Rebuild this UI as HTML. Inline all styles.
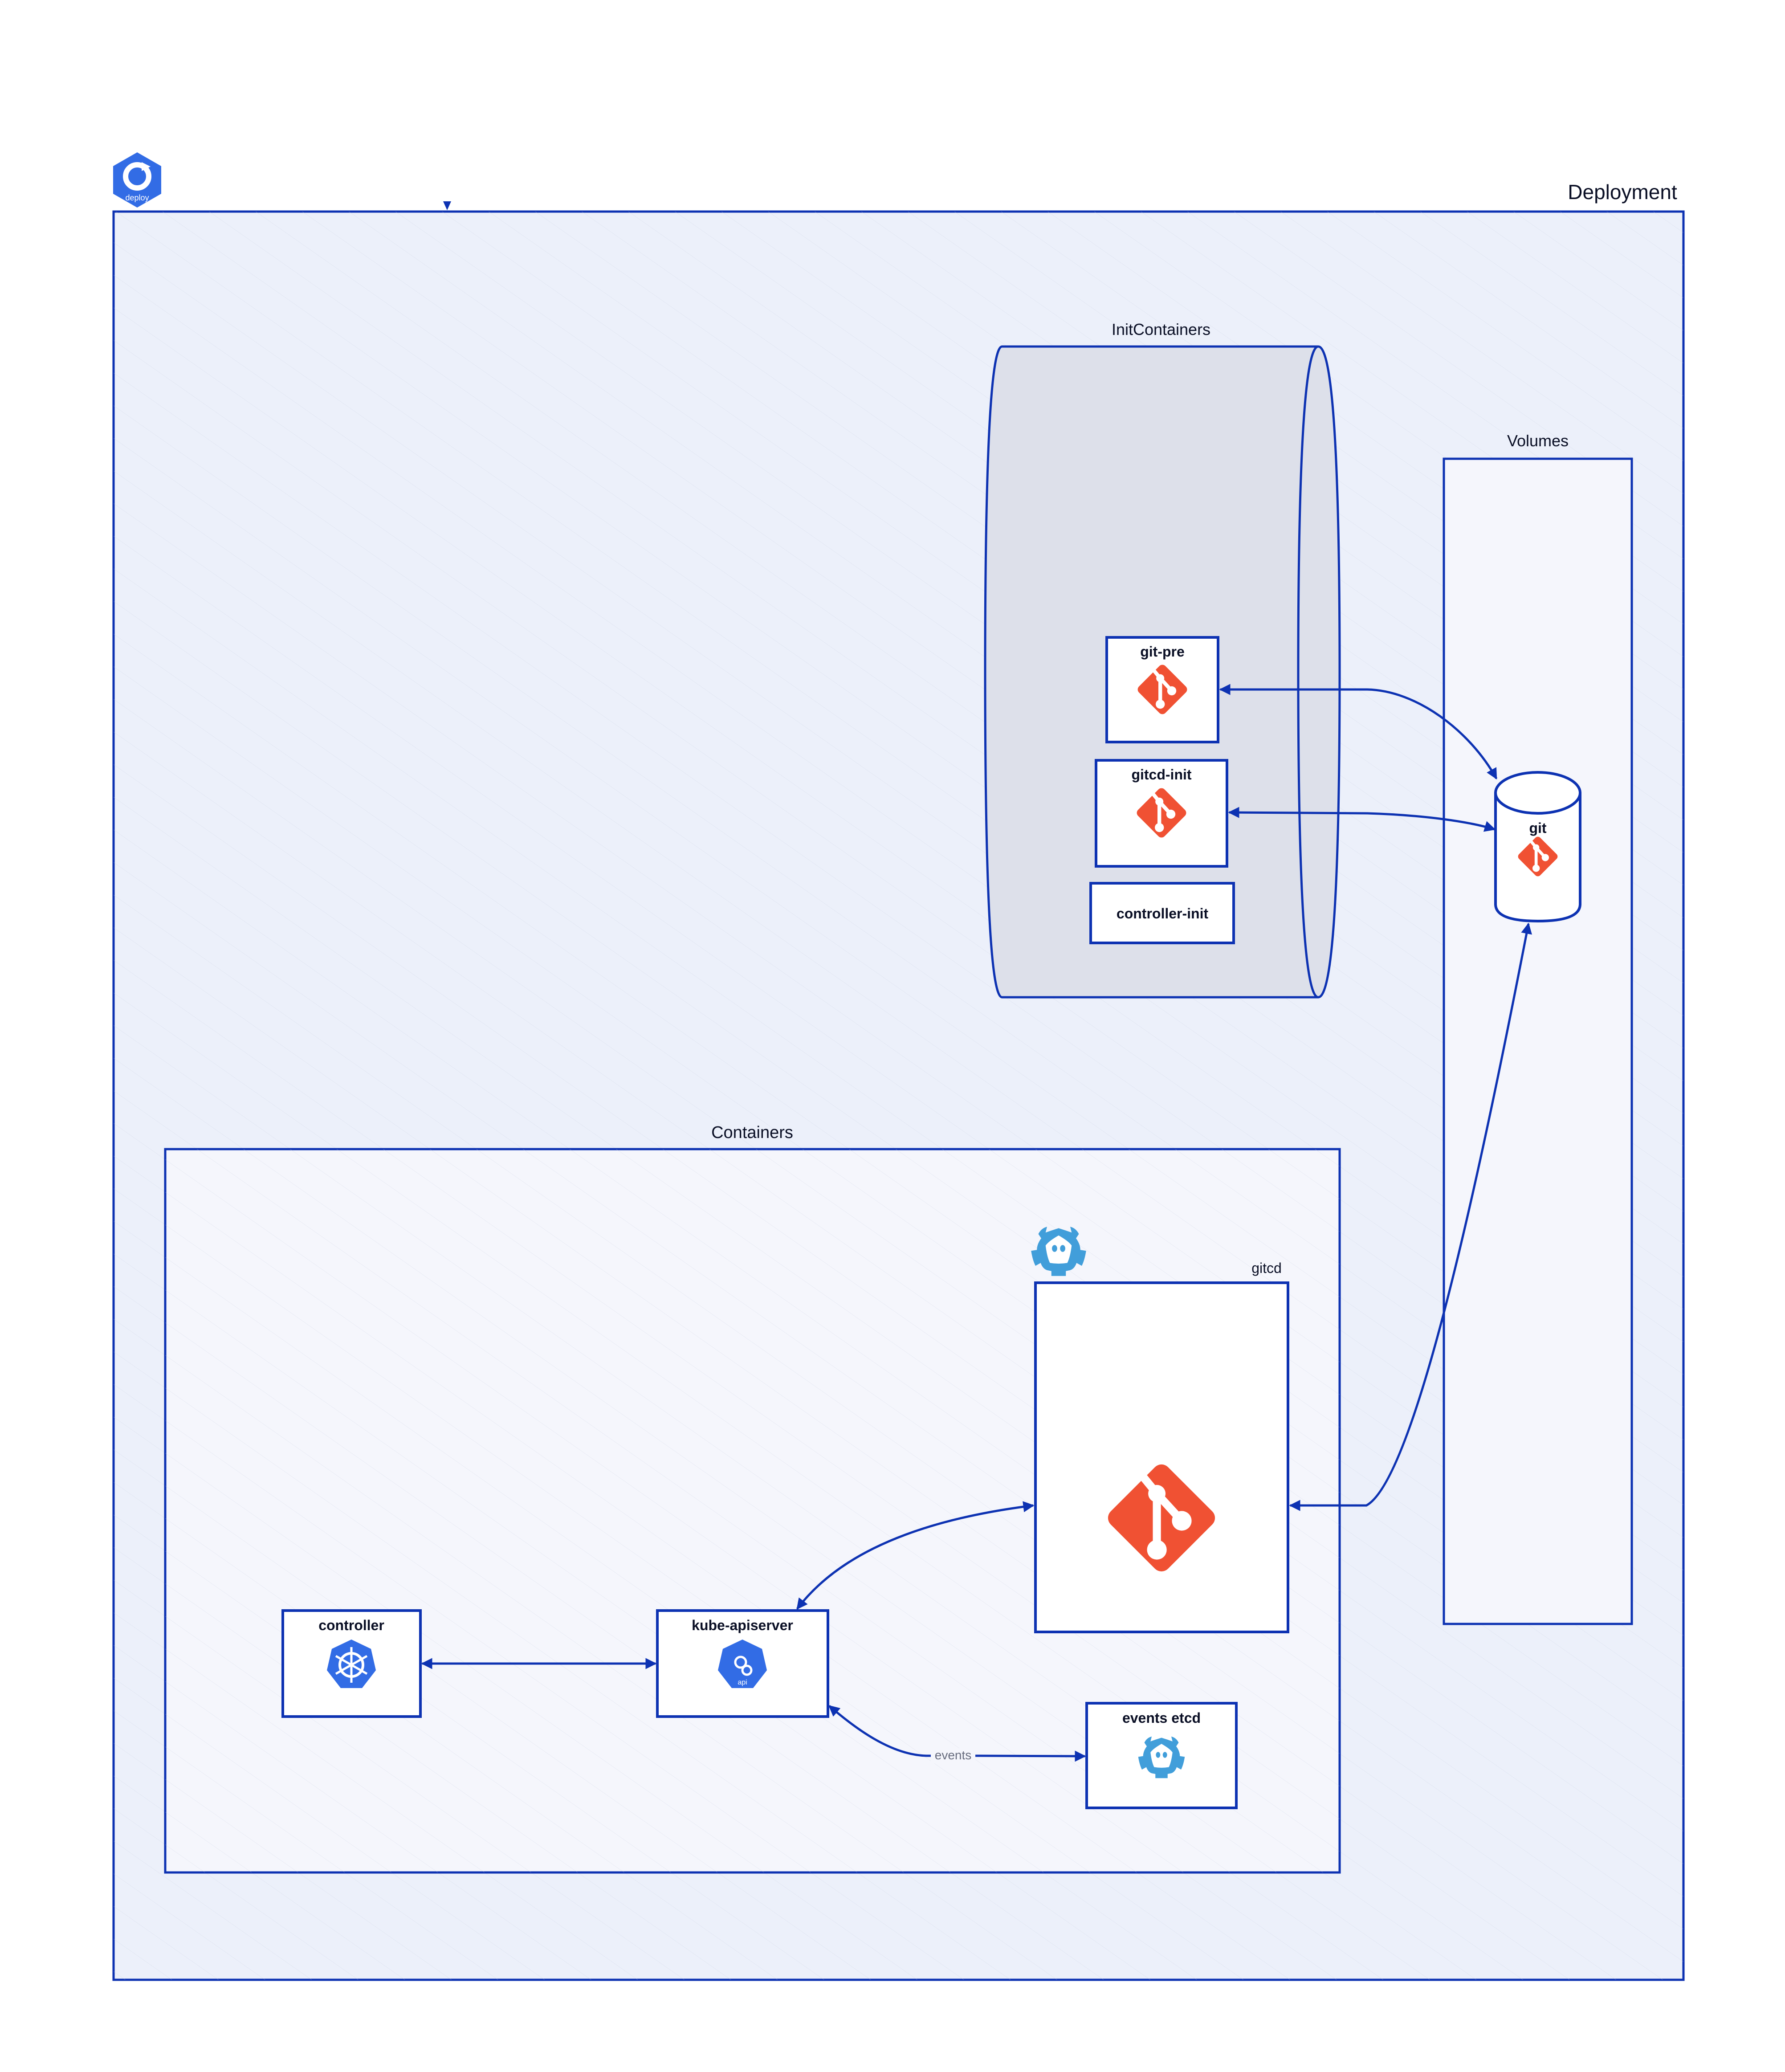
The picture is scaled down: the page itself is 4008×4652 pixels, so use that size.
<!DOCTYPE html>
<html><head><meta charset="utf-8"><style>
html,body{margin:0;padding:0;background:#fff;}
svg{display:block;}
text{font-family:"Liberation Sans",sans-serif;}
</style></head><body>
<svg width="4008" height="4652" viewBox="0 0 4008 4652" xmlns="http://www.w3.org/2000/svg">
<defs>
<g id="gitic">
<rect x="-70" y="-70" width="140" height="140" rx="16" transform="rotate(45)" fill="#f05133"/>
<path d="M-35,-75 L-8,-42 L-8,55 M-8,-42 L35,5" stroke="#fff" stroke-width="14" fill="none"/>
<circle cx="-8" cy="-42" r="15" fill="#fff"/><circle cx="-8" cy="55" r="17" fill="#fff"/><circle cx="35" cy="5" r="17" fill="#fff"/>
</g>
<g id="etcd">
<path d="M-45,-55 L-40,-75 Q-60,-70 -70,-50 L-60,-35 Q-75,-15 -75,5 L-95,8 Q-90,40 -80,60 L-62,50 Q-55,70 -40,75 L-25,78 L-25,95 L25,95 L25,78 L40,75 Q55,70 62,50 L80,60 Q90,40 95,8 L75,5 Q75,-15 60,-35 L70,-50 Q60,-70 40,-75 L45,-55 L25,-62 L0,-70 L-25,-62 Z" fill="#419eda"/>
<path d="M0,-45 Q-35,-25 -45,-10 Q-40,30 -30,50 Q0,55 30,50 Q40,30 45,-10 Q35,-25 0,-45 Z" fill="#fff"/>
<ellipse cx="-14" cy="0" rx="9" ry="12" fill="#419eda"/><ellipse cx="14" cy="0" rx="9" ry="12" fill="#419eda"/>
</g>
<marker id="ah" viewBox="0 0 10 10" refX="9" refY="5" markerWidth="5" markerHeight="5" orient="auto-start-reverse"><path d="M0,0 L10,5 L0,10 Z" fill="#0d32b2"/></marker>
<pattern id="hatch" width="60" height="60" patternUnits="userSpaceOnUse" patternTransform="rotate(-55)"><line x1="0" y1="0" x2="0" y2="60" stroke="#c8cde0" stroke-width="1" opacity="0.5"/></pattern>
</defs>

<rect x="255" y="475" width="3525" height="3970" fill="#ecf0fa" stroke="#0d32b2" stroke-width="5"/>
<rect x="255" y="475" width="3525" height="3970" fill="url(#hatch)"/>
<text x="3643" y="447" font-size="46" text-anchor="middle" fill="#0a0f25">Deployment</text>
<path d="M995,452 L1013,452 L1004,472 Z" fill="#0d32b2"/>
<g transform="translate(308,404)">
<path d="M0,-62 L54,-31 L54,31 L0,62 L-54,31 L-54,-31 Z" fill="#326ce5"/>
<circle cx="0" cy="-8" r="26" fill="none" stroke="#fff" stroke-width="12"/>
<path d="M10,-40 L30,-30 L10,-20 Z" fill="#fff"/>
<text x="0" y="46" font-size="18" fill="#fff" text-anchor="middle">deploy</text>
</g>

<path d="M2250,778 L2960,778 Q3008,778 3008,1508 Q3008,2239 2960,2239 L2250,2239 Q2212,2239 2212,1508 Q2212,778 2250,778 Z" fill="#dde0ea" stroke="#0d32b2" stroke-width="5"/>
<path d="M2960,778 Q2915,778 2915,1508 Q2915,2239 2960,2239" fill="none" stroke="#0d32b2" stroke-width="5"/>
<text x="2607" y="752" font-size="36" text-anchor="middle" fill="#0a0f25">InitContainers</text>

<rect x="3242" y="1030" width="422" height="2616" fill="#f5f6fc" stroke="#0d32b2" stroke-width="5"/>
<text x="3453" y="1002" font-size="36" text-anchor="middle" fill="#0a0f25">Volumes</text>

<rect x="2485" y="1431" width="250" height="235" fill="#fff" stroke="#0d32b2" stroke-width="6"/>
<text x="2610" y="1474" font-size="32" font-weight="bold" text-anchor="middle" fill="#0a0f25">git-pre</text>
<use href="#gitic" transform="translate(2610,1548) scale(0.6)"/>
<rect x="2461" y="1707" width="294" height="238" fill="#fff" stroke="#0d32b2" stroke-width="6"/>
<text x="2608" y="1750" font-size="32" font-weight="bold" text-anchor="middle" fill="#0a0f25">gitcd-init</text>
<use href="#gitic" transform="translate(2608,1825) scale(0.6)"/>
<rect x="2449" y="1983" width="321" height="134" fill="#fff" stroke="#0d32b2" stroke-width="6"/>
<text x="2610" y="2062" font-size="32" font-weight="bold" text-anchor="middle" fill="#0a0f25">controller-init</text>

<path d="M3358,1780 L3358,2030 Q3358,2068 3453,2068 Q3548,2068 3548,2030 L3548,1780" fill="#fff" stroke="#0d32b2" stroke-width="6"/>
<ellipse cx="3453" cy="1780" rx="95" ry="46" fill="#fff" stroke="#0d32b2" stroke-width="6"/>
<text x="3453" y="1870" font-size="32" font-weight="bold" text-anchor="middle" fill="#0a0f25">git</text>
<use href="#gitic" transform="translate(3453,1923) scale(0.48)"/>

<rect x="371" y="2580" width="2637" height="1624" fill="#f5f6fc" stroke="#0d32b2" stroke-width="5"/>
<rect x="371" y="2580" width="2637" height="1624" fill="url(#hatch)"/>
<text x="1689" y="2555" font-size="38" text-anchor="middle" fill="#0a0f25">Containers</text>

<use href="#etcd" transform="translate(2377,2803) scale(0.65)"/>
<text x="2844" y="2858" font-size="32" text-anchor="middle" fill="#0a0f25">gitcd</text>
<rect x="2325" y="2880" width="567" height="784" fill="#fff" stroke="#0d32b2" stroke-width="6"/>
<use href="#gitic" transform="translate(2608,3408) scale(1.3)"/>

<rect x="635" y="3616" width="309" height="238" fill="#fff" stroke="#0d32b2" stroke-width="6"/>
<text x="789" y="3660" font-size="32" font-weight="bold" text-anchor="middle" fill="#0a0f25">controller</text>
<g transform="translate(789,3738)">
<path d="M0,-57 L44,-36 L55,12 L24,52 L-24,52 L-55,12 L-44,-36 Z" fill="#326ce5"/>
<circle r="26" fill="none" stroke="#fff" stroke-width="6"/>
<path d="M0,-40 L0,40 M-35,-20 L35,20 M-35,20 L35,-20" stroke="#fff" stroke-width="5"/>
</g>

<rect x="1476" y="3616" width="383" height="238" fill="#fff" stroke="#0d32b2" stroke-width="6"/>
<text x="1667" y="3660" font-size="32" font-weight="bold" text-anchor="middle" fill="#0a0f25">kube-apiserver</text>
<g transform="translate(1667,3738)">
<path d="M0,-57 L44,-36 L55,12 L24,52 L-24,52 L-55,12 L-44,-36 Z" fill="#326ce5"/>
<circle cx="-4" cy="-6" r="12" fill="none" stroke="#fff" stroke-width="5"/>
<circle cx="10" cy="12" r="10" fill="none" stroke="#fff" stroke-width="5"/>
<text x="0" y="44" font-size="16" fill="#fff" text-anchor="middle">api</text>
</g>

<rect x="2440" y="3824" width="336" height="235" fill="#fff" stroke="#0d32b2" stroke-width="6"/>
<text x="2608" y="3868" font-size="32" font-weight="bold" text-anchor="middle" fill="#0a0f25">events etcd</text>
<use href="#etcd" transform="translate(2608,3940) scale(0.55)"/>

<g fill="none" stroke="#0d32b2" stroke-width="5">
<path d="M2740,1548 L3070,1548 C3180,1550 3300,1640 3360,1748" marker-start="url(#ah)" marker-end="url(#ah)"/>
<path d="M2760,1824 L3070,1826 C3200,1830 3300,1845 3356,1862" marker-start="url(#ah)" marker-end="url(#ah)"/>
<path d="M2897,3380 L3068,3380 C3180,3320 3330,2600 3432,2074" marker-start="url(#ah)" marker-end="url(#ah)"/>
<path d="M1790,3612 C1860,3520 2000,3420 2320,3380" marker-start="url(#ah)" marker-end="url(#ah)"/>
<path d="M948,3735 L1472,3735" marker-start="url(#ah)" marker-end="url(#ah)"/>
<path d="M1862,3830 C1920,3880 2000,3940 2080,3942 L2200,3942 L2436,3943" marker-start="url(#ah)" marker-end="url(#ah)"/>
</g>
<rect x="2090" y="3925" width="100" height="34" fill="#f5f6fc"/>
<text x="2140" y="3950" font-size="28" text-anchor="middle" fill="#676c7e">events</text>
</svg>
</body></html>
